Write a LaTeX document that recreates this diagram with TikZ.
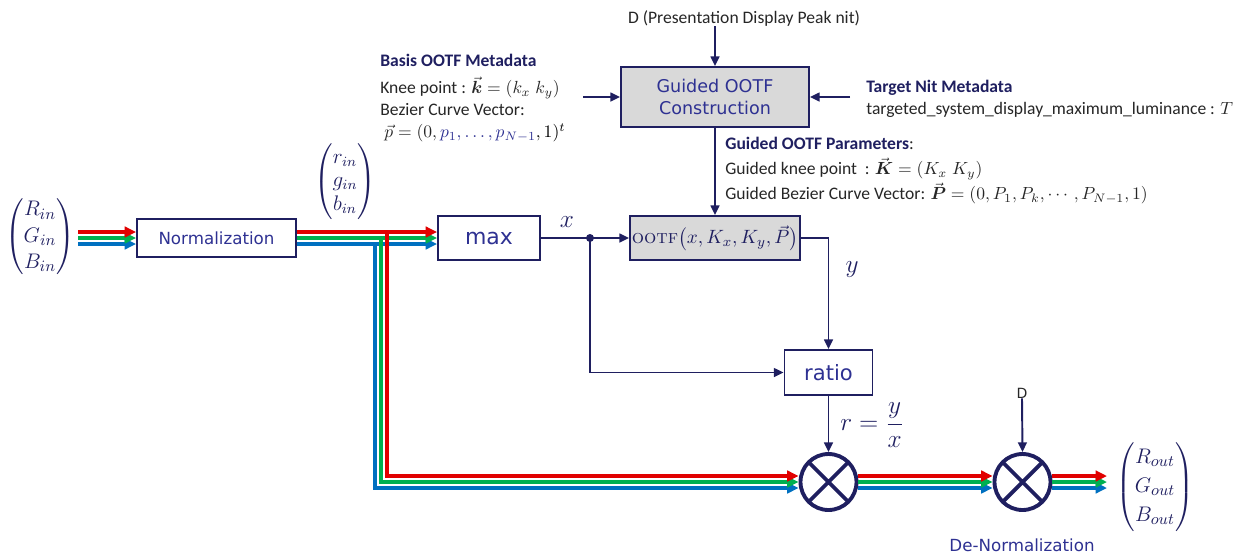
\documentclass[tikz,border=0pt]{standalone}
\usepackage{fontspec}
\usepackage{amsmath}
\newfontfamily\calib{Carlito}
\newfontfamily\verd{DejaVu Sans}
\usetikzlibrary{arrows.meta, calc, positioning}
\definecolor{navy}{RGB}{31,31,96}
\definecolor{boxtext}{RGB}{46,49,146}
\definecolor{chred}{RGB}{225,0,0}
\definecolor{chgreen}{RGB}{0,176,80}
\definecolor{chblue}{RGB}{0,112,192}
\definecolor{boxgray}{RGB}{217,217,217}
\tikzset{
  >={Triangle[length=5.5pt,width=5pt]}, % arrow heads of the navy links
  block/.style={draw=navy, line width=1.1pt, text=boxtext, inner sep=0pt,
    font=\verd\fontsize{9.5}{11.5}\selectfont}, % every box
  grayblock/.style={block, fill=boxgray}, % the shaded boxes
  mult/.style={draw=navy, circle, line width=2.2pt, minimum size=1.12cm,
    path picture={\draw[navy, line width=2.2pt]
      (path picture bounding box.north west) -- (path picture bounding box.south east)
      (path picture bounding box.north east) -- (path picture bounding box.south west);}},
  link/.style={draw=navy, line width=1.1pt, ->}, % navy connectors
  chan/.style={line width=1.9pt, -{Triangle[length=6.5pt,width=6pt]}}, % R, G, B lines
  note/.style={font=\calib\fontsize{10}{12.5}\selectfont,
    align=left, text=black!85, inner sep=0pt}, % metadata texts
  vec/.style={text=navy, inner sep=0pt},
}

\begin{document}
\lineskiplimit=-6pt
\begin{tikzpicture}[x=0.02cm, y=-0.02cm]
  \useasboundingbox (0,0) rectangle (1249,556);

  % boxes
  \node[block, minimum width=3.18cm, minimum height=0.76cm] (norm) at (216.5,238) {Normalization};
  \node[block, minimum width=2.04cm, minimum height=0.88cm,
        font=\verd\fontsize{12.5}{14}\selectfont] (max) at (489,238) {max};
  \node[grayblock, minimum width=3.4cm, minimum height=0.88cm,
        text=navy, font=\fontsize{11}{13}\selectfont] (ootf) at (715,238)
        {\textsc{ootf}$\bigl(x,K_x,K_y,\vec{P}\bigr)$};
  \node[grayblock, minimum width=3.76cm, minimum height=1.2cm, align=center,
        font=\verd\fontsize{10}{12.5}\selectfont] (cons) at (715,97)
        {Guided OOTF\\Construction};
  \node[block, minimum width=1.76cm, minimum height=0.9cm,
        font=\verd\fontsize{12}{14}\selectfont] (ratio) at (828.5,372.5) {ratio};
  \node[mult] (m1) at (828.5,482) {};
  \node[mult] (m2) at (1022.5,482) {};

  % vectors and labels
  \node[vec, font=\fontsize{12.5}{15}\selectfont] (vin) at (40,237)
    {$\begin{pmatrix} R_{in}\\ G_{in}\\ B_{in} \end{pmatrix}$};
  \node[vec, font=\fontsize{11.5}{13.5}\selectfont] (vnorm) at (345,182)
    {$\begin{pmatrix} r_{in}\\ g_{in}\\ b_{in} \end{pmatrix}$};
  \node[vec, font=\fontsize{13}{16.5}\selectfont] (vout) at (1155,487)
    {$\begin{pmatrix} R_{out}\\ G_{out}\\ B_{out} \end{pmatrix}$};
  \node[vec, font=\fontsize{14}{16}\selectfont] (xlab) at (567,222) {$x$};
  \node[vec, font=\fontsize{14}{16}\selectfont] (ylab) at (852,270) {$y$};
  \node[vec, font=\fontsize{14}{16}\selectfont] (rlab) at (872,425) {$r=\dfrac{y}{x}$};
  \node[text=boxtext, font=\verd\fontsize{9.5}{11}\selectfont] (denorm) at (1022,545) {De-Normalization};
  \node[note] (dpeak) at (744,18) {D (Presentation Display Peak nit)};
  \node[note, font=\verd\fontsize{8}{10}\selectfont] (dlab) at (1022,393) {D};

  % metadata
  \node[note, anchor=north west] (basis) at (380,54)
    {{\bfseries\color{navy}Basis OOTF Metadata}\\[3pt]
     Knee point : $\vec{\boldsymbol{k}}=(k_x\;k_y)$\\
     Bezier Curve Vector:\\
     \ $\vec{p}=(0,\color{boxtext}p_1,\ldots,p_{N-1}\color{black},1)^t$};
  \node[note, anchor=north west] (target) at (866,80)
    {{\bfseries\color{navy}Target Nit Metadata}\\
     targeted\_system\_display\_maximum\_luminance : $T$};
  \node[note, anchor=north west, font=\calib\fontsize{10}{14.3}\selectfont]
    (params) at (725,137)
    {{\bfseries\color{navy}Guided OOTF Parameters}:\\
     Guided knee point \ : $\vec{\boldsymbol{K}}=(K_x\;K_y)$\\
     Guided Bezier Curve Vector: $\vec{\boldsymbol{P}}=(0,P_1,P_k,\cdots,P_{N-1},1)$};

  % free ends
  \coordinate (src) at (78,238);
  \coordinate (dst) at (1107,482);
  \coordinate (tap) at (381,238);
  \coordinate (split) at (590,238);
  \coordinate (bin) at (583,97);
  \coordinate (tin) at (850,97);

  % navy links
  \draw[link] (dpeak.south -| cons.north) -- (cons.north);
  \draw[link] (bin) -- (cons.west);
  \draw[link] (tin) -- (cons.east);
  \draw[link] (cons.south) -- (ootf.north);
  \draw[link] (max.east) -- (ootf.west);
  \fill[navy] (split) circle (4);
  \draw[link] (ootf.east) -| (ratio.north);
  \draw[link] (split) |- (ratio.west);
  \draw[link] (ratio.south) -- (m1.north);
  \draw[link] (dlab.south) -- (m2.north);

  % colour channels
  \foreach \c/\o in {chblue/6, chgreen/0, chred/-6} {
    \draw[chan, color=\c] ($(src)+(0,\o)$) -- ($(norm.west)+(0,\o)$);
    \draw[chan, color=\c] ($(norm.east)+(0,\o)$) -- ($(max.west)+(0,\o)$);
    \draw[chan, color=\c] ($(tap)+(-\o,\o-1)$) |- ($(m1.west)+(0,\o)$);
    \draw[chan, color=\c] ($(m1.east)+(0,\o)$) -- ($(m2.west)+(0,\o)$);
    \draw[chan, color=\c] ($(m2.east)+(0,\o)$) -- ($(dst)+(0,\o)$);
  }
\end{tikzpicture}
\end{document}
